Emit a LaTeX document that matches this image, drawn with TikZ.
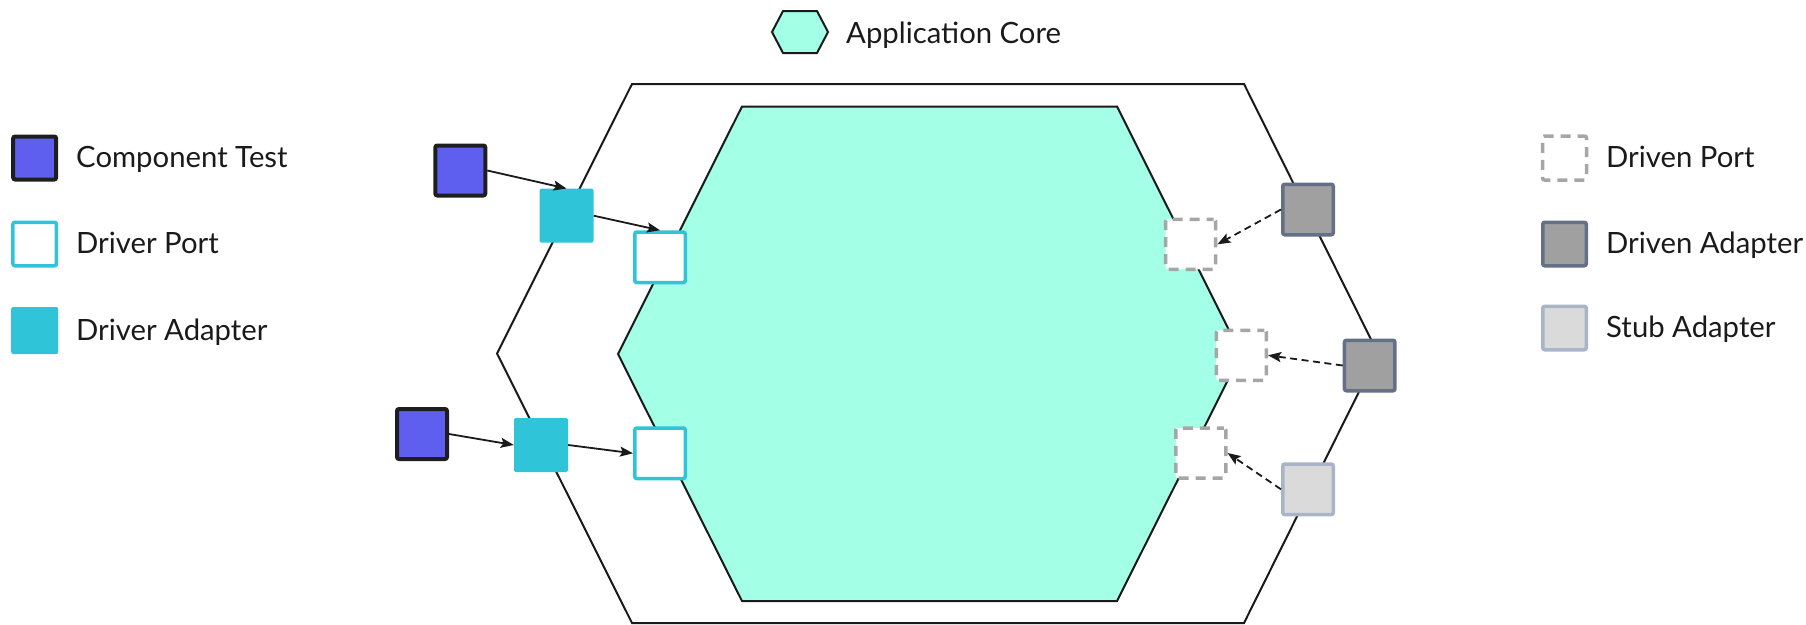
\documentclass[tikz,border=0pt]{standalone}
\usepackage{fontspec}
\setmainfont{Lato}
\usetikzlibrary{arrows.meta}

\definecolor{inkline}{HTML}{1A1A1A}
\definecolor{corefill}{HTML}{A3FFE6}
\definecolor{testfill}{HTML}{5F5FEF}
\definecolor{testline}{HTML}{1E1E1E}
\definecolor{drivercyan}{HTML}{30C4D9}
\definecolor{drivenfill}{HTML}{A0A0A0}
\definecolor{drivenline}{HTML}{647087}
\definecolor{stubfill}{HTML}{DADADA}
\definecolor{stubline}{HTML}{AAB4C8}
\definecolor{portgray}{HTML}{A6A6A6}

\tikzset{
  sq/.style={rectangle, inner sep=0pt, minimum size=#1, rounded corners=2pt},
  testbox/.style={sq=#1, draw=testline, line width=4pt, fill=testfill},
  testbox/.default=50pt,
  adapterbox/.style={sq=#1, fill=drivercyan},
  adapterbox/.default=54pt,
  driverport/.style={sq=#1, draw=drivercyan, line width=3.5pt, fill=white},
  driverport/.default=50.5pt,
  drivenadapter/.style={sq=#1, draw=drivenline, line width=3.5pt, fill=drivenfill},
  drivenadapter/.default=50.5pt,
  stubadapter/.style={sq=#1, draw=stubline, line width=3.5pt, fill=stubfill},
  stubadapter/.default=50.5pt,
  drivenport/.style={sq=#1, draw=portgray, line width=3.5pt, fill=white,
    dash pattern=on 10pt off 7pt, dash phase=3pt},
  drivenport/.default=50pt,
  hexline/.style={draw=inkline, line width=2pt, line join=miter},
  lbl/.style={anchor=base west, inner sep=0pt, text=inkline,
    font=\fontsize{29.3}{34}\selectfont},
  calls/.style={draw=inkline, line width=1.8pt,
    -{Stealth[length=13pt, width=10pt, inset=2.5pt]}},
  usesport/.style={calls, dash pattern=on 7pt off 4.5pt},
}

\begin{document}
\begin{tikzpicture}[x=1pt, y=-1pt]
\useasboundingbox (0,0) rectangle (1806,624);

% outer hexagon (adapter ring)
\draw[hexline] (632,84) -- (1244,84) -- (1378,353.5) -- (1244,623)
  -- (632,623) -- (497,353.5) -- cycle;

% inner hexagon (application core)
\draw[hexline, fill=corefill] (742,106.5) -- (1117,106.5) -- (1241,354)
  -- (1117,601) -- (742,601) -- (618,354) -- cycle;

% legend: application core
\draw[hexline, fill=corefill] (772,32) -- (783,11) -- (817,11) -- (828,32)
  -- (817,53) -- (783,53) -- cycle;
\node[lbl] (lgcore) at (846,43) {Application Core};

% legend: driver side
\node[testbox=43pt]     (lgtest)    at (34.7,158)   {};
\node[driverport=43.5pt] (lgdport)  at (34.7,244)   {};
\node[adapterbox=47pt]  (lgdadapt)  at (34.7,330.5) {};
\node[lbl] (lgtesttxt)   at (76,167.5) {Component Test};
\node[lbl] (lgdporttxt)  at (76,253.5) {Driver Port};
\node[lbl] (lgdadapttxt) at (76,340)   {Driver Adapter};

% legend: driven side
\node[drivenport=44pt]    (lgnport)  at (1564.5,158) {};
\node[drivenadapter=43.5pt] (lgnadapt) at (1564.5,244) {};
\node[stubadapter=43.5pt] (lgstub)   at (1564.5,328) {};
\node[lbl] (lgnporttxt)  at (1606,167.5) {Driven Port};
\node[lbl] (lgnadapttxt) at (1606,253.5) {Driven Adapter};
\node[lbl] (lgstubtxt)   at (1606,337.5) {Stub Adapter};

% driver side of the core
\node[testbox]     (test1)  at (460.3,170.5) {};
\node[adapterbox]  (dadapt1) at (566.5,215.7) {};
\node[driverport]  (dport1) at (660,257.3) {};
\node[testbox]     (test2)  at (422,434) {};
\node[adapterbox]  (dadapt2) at (541,445) {};
\node[driverport]  (dport2) at (660,453.3) {};

\draw[calls] (test1.east) -- (dadapt1.north);
\draw[calls] (dadapt1.east) -- (dport1.north);
\draw[calls] (test2.east) -- (dadapt2.west);
\draw[calls] (dadapt2.east) -- (dport2.west);

% driven side of the core
\node[drivenport]    (nport1)  at (1190.7,244.3) {};
\node[drivenport]    (nport2)  at (1241.3,355.3) {};
\node[drivenport]    (nport3)  at (1200.8,453)   {};
\node[drivenadapter] (nadapt1) at (1308,209.5)   {};
\node[drivenadapter] (nadapt2) at (1369.7,365.5) {};
\node[stubadapter]   (stub)    at (1308,489.3)   {};

\draw[usesport] (nadapt1.west) -- (nport1.east);
\draw[usesport] (nadapt2.west) -- (nport2.east);
\draw[usesport] (stub.west) -- (nport3.east);
\end{tikzpicture}
\end{document}
